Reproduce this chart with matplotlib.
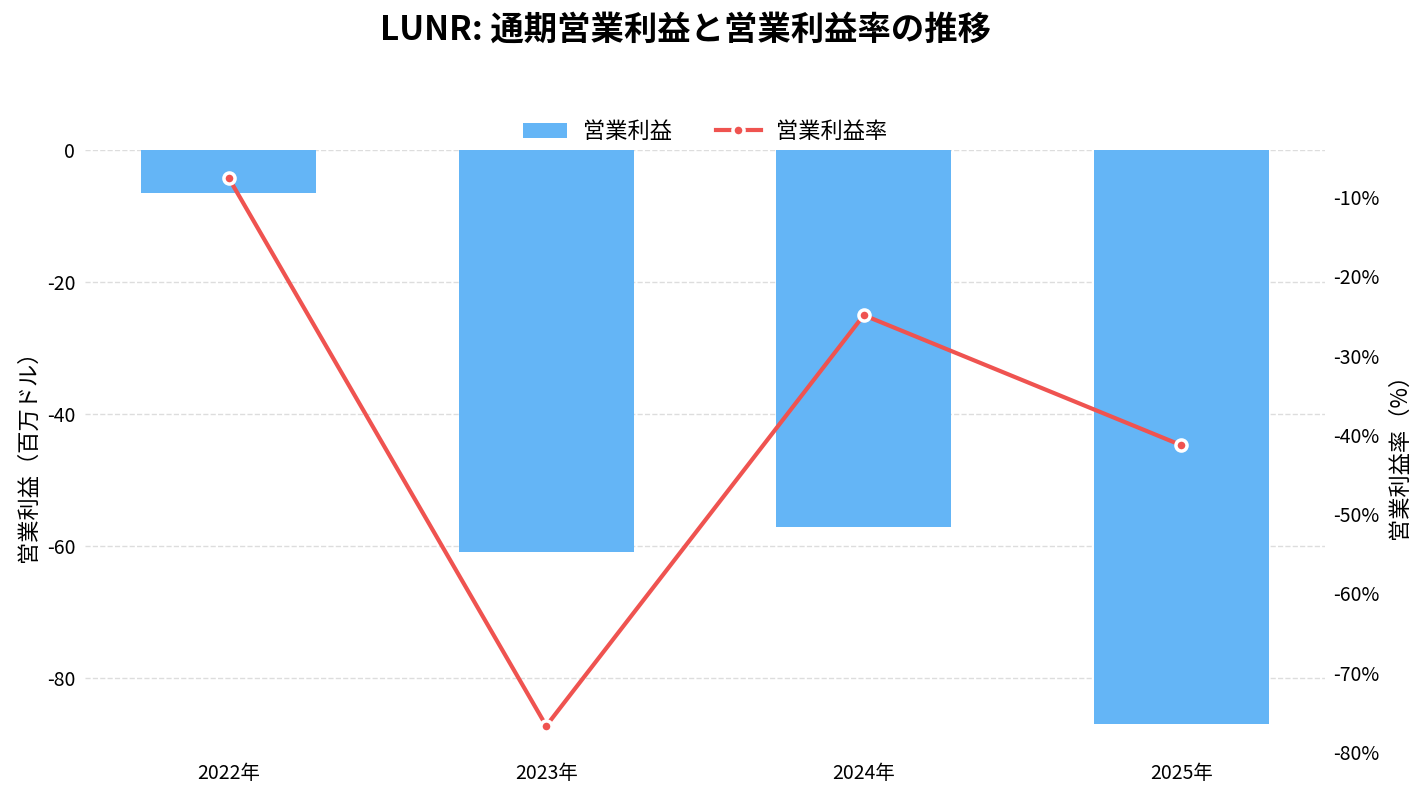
import numpy as np
import matplotlib
matplotlib.use("Agg")
import matplotlib.pyplot as plt
from matplotlib.ticker import FuncFormatter

plt.rcParams['font.family'] = ['Noto Sans CJK JP', 'DejaVu Sans']
plt.rcParams['axes.unicode_minus'] = False

years = ['2022年', '2023年', '2024年', '2025年']
op_income = [-6.5, -60.9, -57.1, -87.0]      # 百万ドル
op_margin = [-7.6, -76.7, -24.9, -41.3]      # %

bar_color = '#64B5F6'
line_color = '#EF5350'

fig = plt.figure(figsize=(14.27, 7.98), dpi=100)
ax = fig.add_axes([0.0596, 0.0576, 0.8689, 0.7544])
x = np.arange(len(years))

bars = ax.bar(x, op_income, width=0.55, color=bar_color, label='営業利益', zorder=2)
ax.set_ylim(-91.3, 0)
ax.set_yticks([0, -20, -40, -60, -80])
ax.set_xticks(x)
ax.set_xticklabels(years, fontsize=14)
ax.tick_params(axis='y', labelsize=14, length=0, pad=7)
ax.tick_params(axis='x', length=0, pad=8)
ax.set_ylabel('営業利益（百万ドル）', fontsize=16, labelpad=5)
ax.grid(axis='y', linestyle='--', color='#dddddd', linewidth=1, zorder=0)
for s in ax.spines.values():
    s.set_visible(False)

ax2 = ax.twinx()
line, = ax2.plot(x, op_margin, color=line_color, linewidth=3, marker='o',
                 markersize=8, markerfacecolor=line_color, markeredgecolor='white',
                 markeredgewidth=2.5, label='営業利益率', zorder=3)
ax2.set_ylim(-80, -4.07)
ax2.set_yticks([-10, -20, -30, -40, -50, -60, -70, -80])
ax2.yaxis.set_major_formatter(FuncFormatter(lambda v, p: f'{v:.0f}%'))
ax2.tick_params(axis='y', labelsize=14, length=0, pad=6)
ax2.set_ylabel('営業利益率（%）', fontsize=16, labelpad=6)
for s in ax2.spines.values():
    s.set_visible(False)

ax.legend([bars, line], ['営業利益', '営業利益率'], loc='lower center',
          bbox_to_anchor=(0.5, 0.978), ncol=2, frameon=False, fontsize=16,
          handlelength=2.0, handletextpad=0.7, columnspacing=2.0)

fig.text(685 / 1427, 1 - 30 / 798, 'LUNR: 通期営業利益と営業利益率の推移',
         ha='center', va='center', fontsize=24, fontweight='bold')

fig.savefig('out.png', dpi=100)
